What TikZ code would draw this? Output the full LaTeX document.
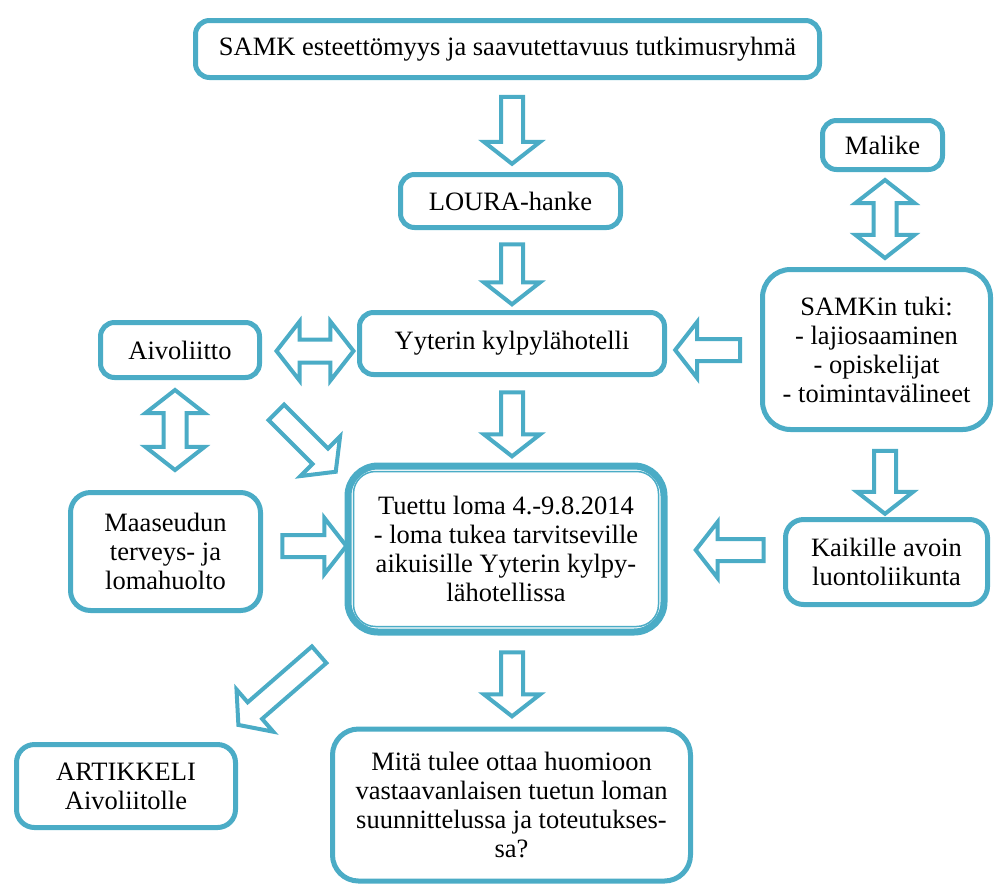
\documentclass[tikz,border=0pt]{standalone}
\usepackage{fontspec}
\setmainfont{Liberation Serif}
\usetikzlibrary{shapes.arrows,calc}
\definecolor{aquaCol}{RGB}{75,172,198}
\tikzset{
  box/.style={draw=aquaCol,line width=5pt,rounded corners=14pt,fill=white,
              align=center,inner sep=4pt},
  blk/.style={single arrow,draw=aquaCol,fill=white,line width=4pt,inner sep=0pt,
              text height=18pt,text depth=0pt,minimum width=52pt,
              single arrow head extend=17pt,single arrow tip angle=104},
  dblk/.style={double arrow,draw=aquaCol,fill=white,line width=4pt,inner sep=0pt,
              text height=19pt,text depth=0pt,minimum width=56pt,
              double arrow head extend=18pt,double arrow tip angle=104},
}

\begin{document}
\begin{tikzpicture}[x=1pt,y=-1pt,font=\fontsize{26.5}{29}\selectfont]
    \useasboundingbox (0,0) rectangle (995,884);
    % --- boxes ---
    \node[box,minimum width=624pt,minimum height=57pt] (samk) at (507.5,49)
        {SAMK esteettömyys ja saavutettavuus tutkimusryhmä};
    \node[box,minimum width=220pt,minimum height=53pt] (loura) at (510.5,201) {LOURA-hanke};
    \node[box,minimum width=305pt,minimum height=62pt] (yyteri) at (512,343.5) {Yyterin kylpylähotelli};
    \node[box,minimum width=159pt,minimum height=55pt] (aivo) at (180,350) {Aivoliitto};
    \node[box,minimum width=120pt,minimum height=49pt] (malike) at (882.5,145) {Malike};
    \node[box,rounded corners=28pt,minimum width=228pt,minimum height=160pt] (tuki) at (876.5,349.5)
        {SAMKin tuki:\\- lajiosaaminen\\- opiskelijat\\- toimintavälineet};
    \node[box,line width=7pt,rounded corners=30pt,minimum width=316pt,minimum height=166pt] (loma) at (506,549)
        {Tuettu loma 4.-9.8.2014\\- loma tukea tarvitseville\\aikuisille Yyterin kylpy-\\lähotellissa};
    \draw[aquaCol,line width=1.5pt,rounded corners=22pt]
        ($(loma.south west)+(9,-9)$) rectangle ($(loma.north east)+(-9,9)$);
    \node[box,rounded corners=20pt,minimum width=190pt,minimum height=118pt] (maaseutu) at (165.5,551.5)
        {Maaseudun\\terveys- ja\\lomahuolto};
    \node[box,rounded corners=18pt,minimum width=202pt,minimum height=85pt] (kaikille) at (886.5,562)
        {Kaikille avoin\\luontoliikunta};
    \node[box,rounded corners=18pt,minimum width=219pt,minimum height=83pt] (artikkeli) at (126,786)
        {ARTIKKELI\\Aivoliitolle};
    \node[box,rounded corners=26pt,minimum width=358pt,minimum height=152pt] (mita) at (511.5,805)
        {Mitä tulee ottaa huomioon\\vastaavanlaisen tuetun loman\\suunnittelussa ja toteutukses-\\sa?};
    % --- block arrows ---
    \node[blk,rotate=-90,minimum height=67pt] (a1) at (512,126) {};
    \node[blk,rotate=-90,minimum height=60pt] (a2) at (512,270) {};
    \node[blk,rotate=-90,minimum height=64pt] (a3) at (512,420) {};
    \node[blk,rotate=-90,minimum height=64pt] (a4) at (512,680) {};
    \node[dblk,minimum height=77pt] (d1) at (315,351) {};
    \node[dblk,rotate=90,minimum height=80pt] (d2) at (175,430) {};
    \node[blk,rotate=-45,minimum height=84pt] (a5) at (303,439) {};
    \node[blk,minimum height=64pt] (a6) at (310,546) {};
    \node[blk,rotate=180,minimum height=65pt] (a7) at (712,350) {};
    \node[dblk,rotate=90,minimum height=78pt] (d3) at (885,219) {};
    \node[blk,rotate=-90,minimum height=63pt] (a8) at (885,478) {};
    \node[blk,rotate=180,minimum height=68pt] (a9) at (734,550) {};
    \node[blk,rotate=221,minimum height=107pt] (a10) at (282,687) {};
\end{tikzpicture}
\end{document}
